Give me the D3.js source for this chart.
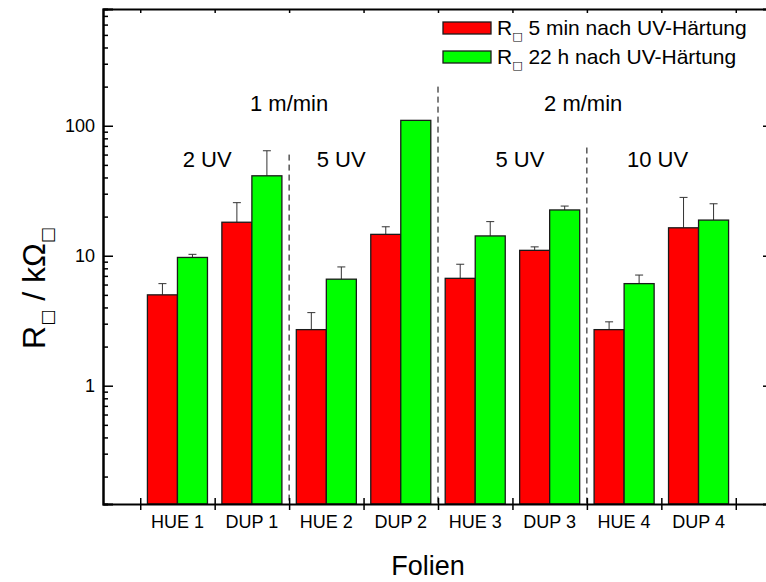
<!DOCTYPE html>
<html>
<head>
<meta charset="utf-8">
<script src="https://cdn.jsdelivr.net/npm/d3@7"></script>
<style>
  body { margin: 0; background: #fff; }
  svg text { font-family: "Liberation Sans", Arial, sans-serif; fill: #000; }
  .xlab text { font-family: "Liberation Sans Narrow", "Arial Narrow", "Liberation Sans", sans-serif; }
  .box { font-family: "DejaVu Sans", sans-serif; fill: #000; }
</style>
</head>
<body>
<div id="chart"></div>
<script>
let width = 766
let height = 582

// data
let categories = ["HUE 1", "DUP 1", "HUE 2", "DUP 2", "HUE 3", "DUP 3", "HUE 4", "DUP 4"]
let series = ["5 min nach UV-Härtung", "22 h nach UV-Härtung"]
let r5min = [5.0, 18.1, 2.7, 14.6, 6.7, 11.0, 2.7, 16.4]
let r5minErr = [1.1, 7.5, 0.95, 2.1, 1.9, 0.7, 0.4, 11.7]
let r22h = [9.7, 41.2, 6.6, 110, 14.2, 22.5, 6.1, 18.8]
let r22hErr = [0.55, 23, 1.6, 0, 4.1, 1.6, 1.0, 6.3]
let yMajorTicks = [1, 10, 100]
let groupLabels = [["1 m/min", 2.5, 130], ["2 m/min", 6.45, 130]]
let uvLabels = [["2 UV", 1.4, 48], ["5 UV", 3.2, 48], ["5 UV", 5.6, 48], ["10 UV", 7.45, 48]]
let separators = [[2.5, 60], [4.5, 200], [6.5, 68]]

let colors = ["#ff0000", "#00ff00"]

let pLeft = 103, pRight = 773, pTop = 9, pBottom = 504

let svg = d3.select("#chart")
            .append("svg")
            .attr("width", width)
            .attr("height", height)

let xScale = d3.scaleLinear().domain([0, 9]).range([pLeft, pRight])
let yScale = d3.scaleLog().domain([0.123, 791]).range([pBottom, pTop])

let xBand = d3.scaleBand()
    .domain(categories)
    .range([xScale(0.5), xScale(8.5)])
let xSub = d3.scaleBand()
    .domain(series)
    .range([0, xBand.bandwidth()])
    .paddingOuter(0.24)

let rows = categories.map(function(c, i) {
    return [
        {cat: c, s: series[0], v: r5min[i], e: r5minErr[i], col: colors[0]},
        {cat: c, s: series[1], v: r22h[i], e: r22hErr[i], col: colors[1]}
    ]
}).flat()

// dashed separators
svg.selectAll(".sep")
    .data(separators)
    .enter()
    .append("line")
    .attr("x1", d => xScale(d[0]))
    .attr("x2", d => xScale(d[0]))
    .attr("y1", d => yScale(d[1]))
    .attr("y2", pBottom)
    .attr("stroke", "#000")
    .attr("stroke-width", 1)
    .attr("stroke-dasharray", "6,4")

// error bars (upper only)
let eb = svg.selectAll(".err")
    .data(rows.filter(d => d.e > 0))
    .enter()
    .append("g")
eb.append("line")
    .attr("x1", d => xBand(d.cat) + xSub(d.s) + xSub.bandwidth() / 2)
    .attr("x2", d => xBand(d.cat) + xSub(d.s) + xSub.bandwidth() / 2)
    .attr("y1", d => yScale(d.v))
    .attr("y2", d => yScale(d.v + d.e))
    .attr("stroke", "#333")
eb.append("line")
    .attr("x1", d => xBand(d.cat) + xSub(d.s) + xSub.bandwidth() / 2 - 4)
    .attr("x2", d => xBand(d.cat) + xSub(d.s) + xSub.bandwidth() / 2 + 4)
    .attr("y1", d => yScale(d.v + d.e))
    .attr("y2", d => yScale(d.v + d.e))
    .attr("stroke", "#333")

// bars
svg.selectAll(".bar")
    .data(rows)
    .enter()
    .append("rect")
    .attr("x", d => xBand(d.cat) + xSub(d.s))
    .attr("width", xSub.bandwidth())
    .attr("y", d => yScale(d.v))
    .attr("height", d => pBottom - yScale(d.v))
    .attr("fill", d => d.col)
    .attr("stroke", "#1a1a1a")
    .attr("stroke-width", 1.3)

// left axis: major + minor ticks pointing inside
let minor = yScale.ticks().filter(t => yMajorTicks.indexOf(t) < 0)
svg.append("g")
    .attr("transform", "translate(" + pLeft + ",0)")
    .call(d3.axisLeft(yScale).tickValues(minor).tickSize(-5).tickFormat(""))
svg.append("g")
    .attr("class", "axis")
    .attr("transform", "translate(" + pLeft + ",0)")
    .call(d3.axisLeft(yScale).tickValues(yMajorTicks).tickSize(-10).tickPadding(8)
        .tickFormat(d3.format("d")))
    .selectAll("text").attr("font-size", 18)

// right axis
svg.append("g")
    .attr("transform", "translate(" + pRight + ",0)")
    .call(d3.axisRight(yScale).tickValues(yMajorTicks).tickSize(-10).tickFormat(""))

// bottom axis: ticks at category borders, crossing the line
let borders = d3.range(0.5, 9, 1)
svg.append("g")
    .attr("transform", "translate(0," + pBottom + ")")
    .call(d3.axisBottom(xScale).tickValues(borders).tickSize(6).tickFormat("").tickSizeOuter(0))
    .selectAll(".tick line").attr("y1", -6)
svg.append("g")
    .attr("class", "xlab")
    .attr("transform", "translate(0," + pBottom + ")")
    .call(d3.axisBottom(xBand).tickSize(0).tickPadding(11))
    .call(g => g.select(".domain").remove())
    .selectAll("text").attr("font-size", 18)

// top axis
svg.append("g")
    .attr("transform", "translate(0," + pTop + ")")
    .call(d3.axisTop(xScale).tickValues(borders).tickSize(-4).tickFormat("").tickSizeOuter(0))

svg.selectAll(".domain").attr("stroke-width", 2)
svg.selectAll(".tick line").attr("stroke-width", 1.5)

// annotations
svg.selectAll(".grp")
    .data(groupLabels.concat(uvLabels))
    .enter()
    .append("text")
    .attr("x", d => xScale(d[1]))
    .attr("y", d => yScale(d[2]))
    .attr("text-anchor", "middle")
    .attr("font-size", 22)
    .text(d => d[0])

// legend
let legend = svg.append("g").attr("transform", "translate(443,22)")
let li = legend.selectAll("g")
    .data(series)
    .enter()
    .append("g")
    .attr("transform", (d, i) => "translate(0," + (i * 29) + ")")
li.append("rect")
    .attr("width", 48)
    .attr("height", 12)
    .attr("fill", (d, i) => colors[i])
    .attr("stroke", "#1a1a1a")
    .attr("stroke-width", 1.3)
let lt = li.append("text")
    .attr("x", 54)
    .attr("y", 13)
    .attr("font-size", 21)
lt.append("tspan").text("R")
lt.append("tspan").attr("class", "box").attr("font-size", 11).attr("dy", 5).text("□")
lt.append("tspan").attr("dy", -5).text(d => " " + d)

// axis titles
let yt = svg.append("text")
    .attr("transform", "translate(45," + 288 + ") rotate(-90)")
    .attr("text-anchor", "middle")
    .attr("font-size", 32)
yt.append("tspan").text("R")
yt.append("tspan").attr("class", "box").attr("font-size", 17).attr("dy", 8).text("□")
yt.append("tspan").attr("dy", -8).text(" / kΩ")
yt.append("tspan").attr("class", "box").attr("font-size", 17).attr("dy", 8).text("□")

svg.append("text")
    .attr("x", (pLeft + xScale(9)) / 2 - 10)
    .attr("y", 575)
    .attr("text-anchor", "middle")
    .attr("font-size", 27)
    .text("Folien")
</script>
</body>
</html>
